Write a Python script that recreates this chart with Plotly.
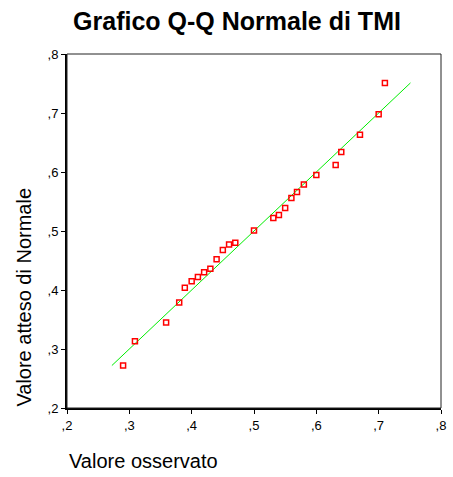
import plotly.graph_objects as go

# Observed values (x) and expected normal values (y)
observed = [0.290, 0.309, 0.359, 0.380, 0.389, 0.400, 0.410, 0.420, 0.430, 0.440,
            0.450, 0.460, 0.470, 0.500, 0.531, 0.540, 0.550, 0.560, 0.569, 0.580,
            0.600, 0.631, 0.640, 0.670, 0.700, 0.710]
expected = [0.272, 0.313, 0.345, 0.379, 0.404, 0.415, 0.422, 0.430, 0.436, 0.452,
            0.468, 0.477, 0.480, 0.501, 0.522, 0.527, 0.539, 0.556, 0.566, 0.579,
            0.595, 0.612, 0.634, 0.663, 0.698, 0.751]
ref_line = [0.272, 0.751]
tick_vals = [0.2, 0.3, 0.4, 0.5, 0.6, 0.7, 0.8]
tick_text = [",2", ",3", ",4", ",5", ",6", ",7", ",8"]

FONT = "Liberation Sans, Arial, sans-serif"

fig = go.Figure()
fig.add_trace(go.Scatter(x=ref_line, y=ref_line, mode="lines",
                         line=dict(color="#00ee00", width=1), hoverinfo="skip",
                         showlegend=False))
fig.add_trace(go.Scatter(x=observed, y=expected, mode="markers",
                         marker=dict(symbol="square-open", size=5, color="#ff0000",
                                     line=dict(width=1.5, color="#ff0000")),
                         showlegend=False))

axis_common = dict(range=[0.2, 0.8], tickvals=tick_vals, ticktext=tick_text,
                   showgrid=False, zeroline=False, ticks="outside", ticklen=4,
                   tickcolor="black", tickwidth=1, showline=True, linecolor="black",
                   linewidth=2, tickfont=dict(family=FONT, size=13, color="black"))
fig.update_xaxes(**axis_common)
fig.update_yaxes(**axis_common)

fig.add_shape(type="rect", xref="paper", yref="paper", x0=0, y0=0, x1=1, y1=1,
              line=dict(color="#222222", width=1))

fig.update_layout(
    width=453, height=477,
    margin=dict(l=67, r=7, t=54, b=69),
    paper_bgcolor="white", plot_bgcolor="white",
    title=dict(text="<b>Grafico Q-Q Normale di TMI</b>", x=237 / 453, xanchor="center",
               y=1 - 21 / 477, yanchor="middle",
               font=dict(family=FONT, size=25, color="black")),
    annotations=[
        dict(text="Valore atteso di Normale", xref="paper", yref="paper",
             x=(23 - 67) / 379, y=(408 - 297) / 354, xanchor="center", yanchor="middle",
             textangle=-90, showarrow=False,
             font=dict(family=FONT, size=20, color="black")),
        dict(text="Valore osservato", xref="paper", yref="paper",
             x=0, y=(408 - 461) / 354, xanchor="left", yanchor="middle",
             showarrow=False, font=dict(family=FONT, size=20, color="black")),
    ],
)

fig.write_html("out.html")
